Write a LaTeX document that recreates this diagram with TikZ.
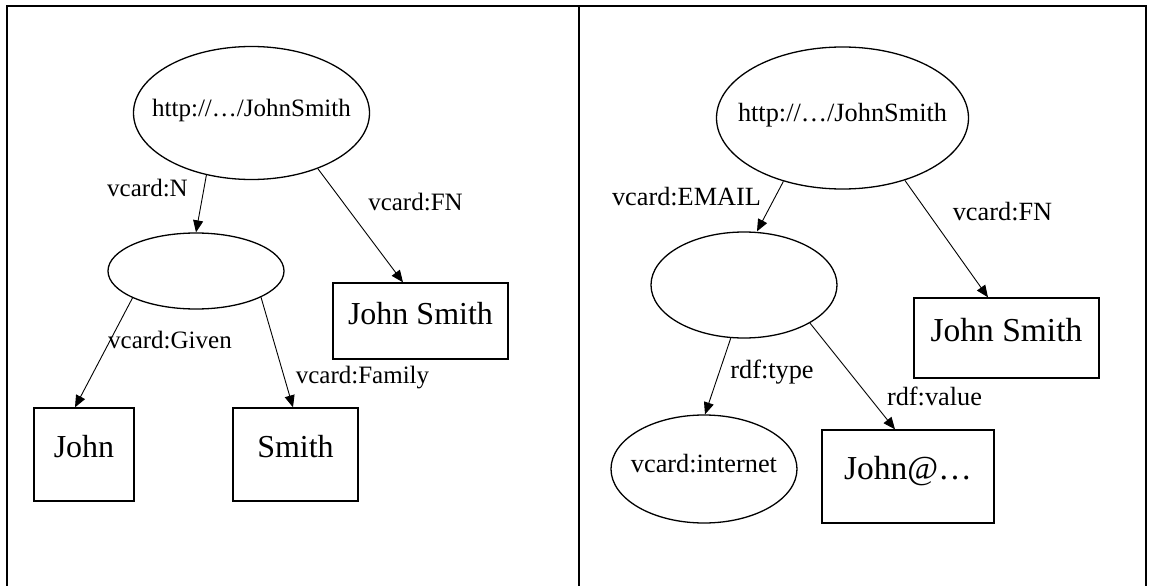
\documentclass[tikz,border=0pt]{standalone}
\usepackage{fontspec}
\setmainfont{Liberation Serif}
\usetikzlibrary{arrows.meta,shapes.geometric}
\begin{document}
\begin{tikzpicture}[x=1pt,y=-1pt,
  ell/.style={draw,ellipse,line width=1.3pt,inner sep=0pt},
  box/.style={draw,rectangle,line width=1.3pt,inner sep=0pt,text height=0.66em,text depth=0pt},
  lab/.style={inner sep=0pt,text height=0.66em,text depth=0pt},
  fl/.style={font=\fontsize{25}{30}\selectfont},
  fr/.style={font=\fontsize{26.3}{31}\selectfont},
  bl/.style={font=\fontsize{32}{38}\selectfont},
  br/.style={font=\fontsize{33.5}{40}\selectfont},
  edge/.style={line width=0.9pt,-{Triangle[length=12pt,width=10pt]}},
  framestyle/.style={line width=2pt}]
\useasboundingbox (0,0) rectangle (1152,586);
\fill[white] (0,0) rectangle (1152,586);
% frame
\draw[framestyle] (7,586) -- (7,6) -- (1146,6) -- (1146,586);
\draw[framestyle] (579,6) -- (579,586);
% left panel
\node[ell,minimum width=236pt,minimum height=133pt] (L1) at (251.5,113) {};
\node[lab,fl] (L1t) at (L1.center) {http://…/JohnSmith};
\node[ell,minimum width=176pt,minimum height=76pt] (L2) at (196,271) {};
\node[box,bl,minimum width=175pt,minimum height=76pt] (LJS) at (420.5,321) {John Smith};
\node[box,bl,minimum width=100pt,minimum height=93pt] (LJ) at (84,454.5) {John};
\node[box,bl,minimum width=125pt,minimum height=93pt] (LS) at (295.5,454.5) {Smith};
\draw[edge] (L1.-126) -- (L2.north);
\draw[edge] (L1.-40.7) -- ([xshift=-17.5pt]LJS.north);
\draw[edge] (L2.-157.9) -- ([xshift=-9pt]LJ.north);
\draw[edge] (L2.-22.1) -- ([xshift=-2.5pt]LS.north);
\node[lab,fl] (lN) at (147.5,193) {vcard:N};
\node[lab,fl] (lFN) at (415.5,207) {vcard:FN};
\node[lab,fl] (lG) at (170,345) {vcard:Given};
\node[lab,fl] (lF) at (362.5,380) {vcard:Family};
% right panel
\node[ell,minimum width=252pt,minimum height=142pt] (R1) at (842.5,118) {};
\node[lab,fr] (R1t) at (R1.center) {http://…/JohnSmith};
\node[ell,minimum width=186pt,minimum height=106pt] (R2) at (744,285) {};
\node[box,br,minimum width=185pt,minimum height=80pt] (RJS) at (1006.5,338) {John Smith};
\node[ell,minimum width=186pt,minimum height=108pt] (RI) at (704,469) {};
\node[lab,fr] (RIt) at (RI.center) {vcard:internet};
\node[box,br,minimum width=172pt,minimum height=93pt] (RE) at (908,476.5) {John@…};
\draw[edge] (R1.-133.4) -- ([xshift=13pt]R2.north);
\draw[edge] (R1.-45.7) -- ([xshift=-18.5pt]RJS.north);
\draw[edge] (R2.-104.8) -- ([xshift=1pt]RI.north);
\draw[edge] (R2.-30.3) -- ([xshift=-13pt]RE.north);
\node[lab,fr] (lE) at (686.5,202) {vcard:EMAIL};
\node[lab,fr] (rFN) at (1002.5,217) {vcard:FN};
\node[lab,fr] (lT) at (772,375) {rdf:type};
\node[lab,fr] (lV) at (934.5,402) {rdf:value};
\end{tikzpicture}
\end{document}
